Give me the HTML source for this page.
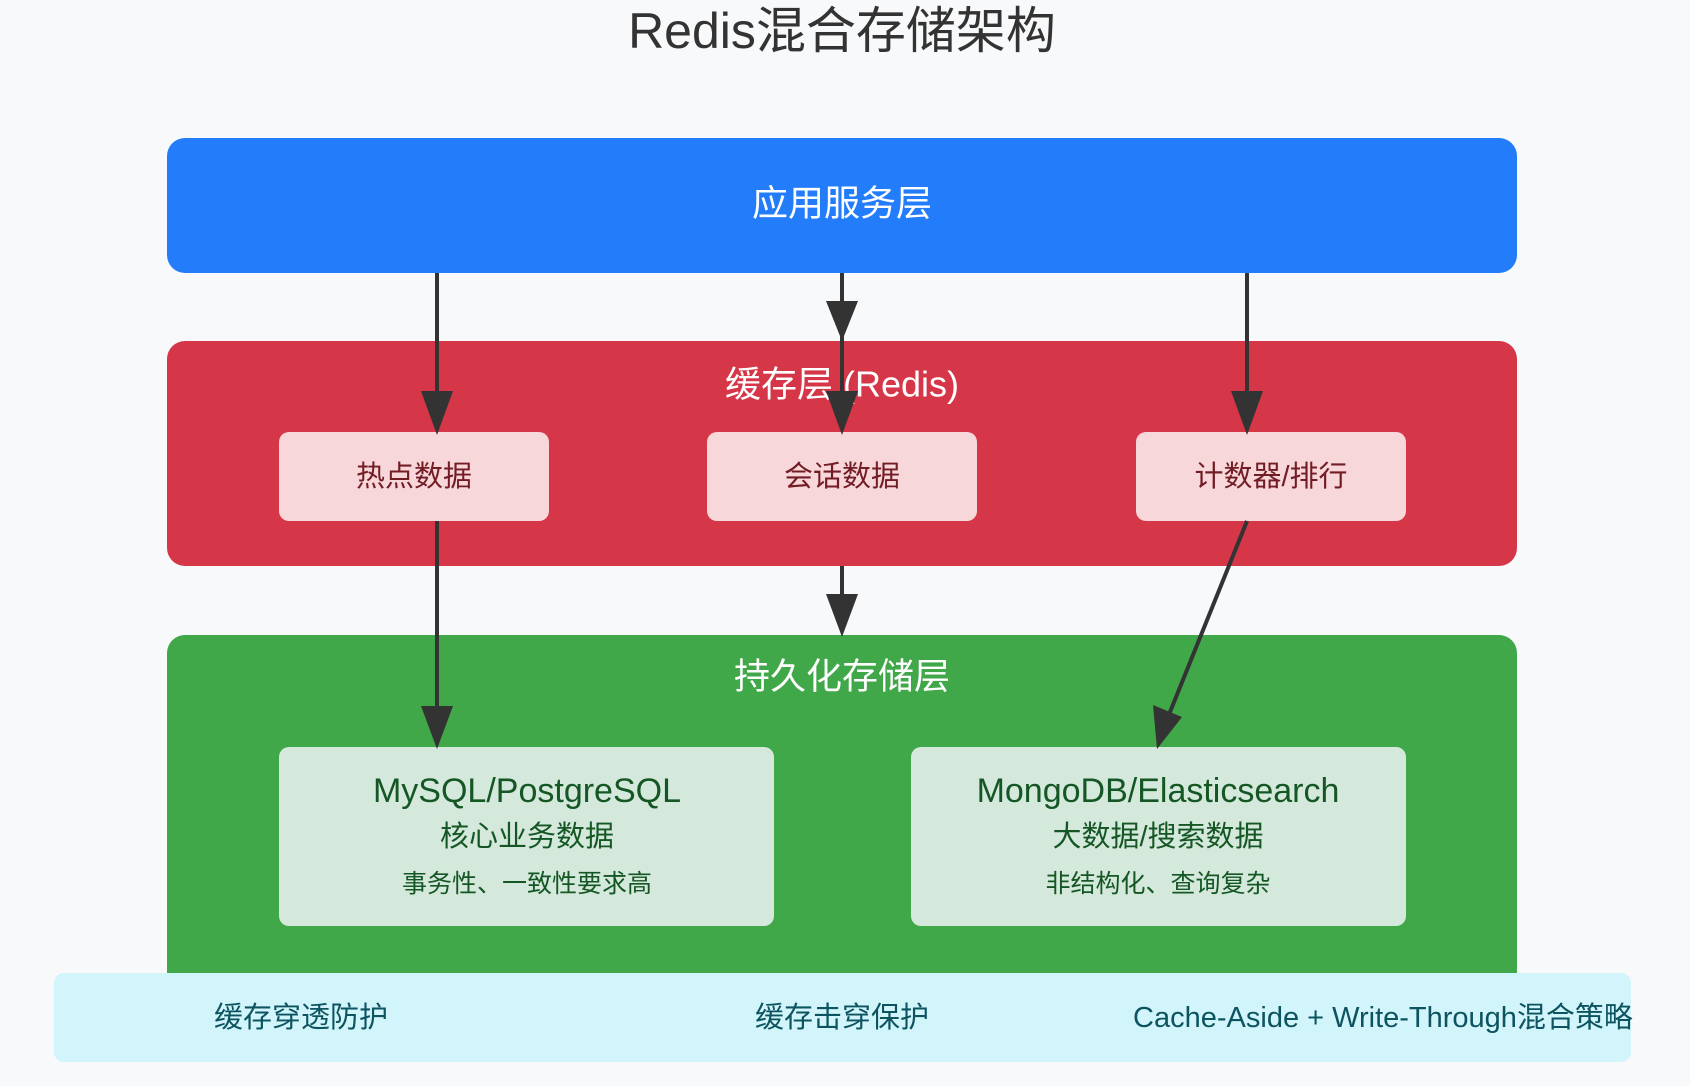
<!DOCTYPE html>
<html><head><meta charset="utf-8"><style>
html,body{margin:0;padding:0;background:#f8f9fa;}
svg{display:block}
text{font-family:"Liberation Sans","Noto Sans CJK SC",sans-serif;text-anchor:middle;dominant-baseline:central}
</style></head><body>
<svg width="1690" height="1086" viewBox="0 0 1690 1086" xmlns="http://www.w3.org/2000/svg">
<rect width="1690" height="1086" fill="#f8f9fa"/>
<text x="842" y="31" font-size="50" fill="#333">Redis混合存储架构</text>
<rect x="167" y="138" width="1350" height="135" rx="18" fill="#237dfb"/>
<text x="842" y="203" font-size="36" fill="#fff">应用服务层</text>
<rect x="167" y="341" width="1350" height="225" rx="18" fill="#d53648"/>
<text x="842" y="384" font-size="36" fill="#fff">缓存层 (Redis)</text>
<rect x="279" y="432" width="270" height="89" rx="10" fill="#f8d7da"/>
<rect x="707" y="432" width="270" height="89" rx="10" fill="#f8d7da"/>
<rect x="1136" y="432" width="270" height="89" rx="10" fill="#f8d7da"/>
<text x="414" y="477" font-size="29" fill="#721c24">热点数据</text>
<text x="842" y="477" font-size="29" fill="#721c24">会话数据</text>
<text x="1271" y="477" font-size="29" fill="#721c24">计数器/排行</text>
<rect x="167" y="635" width="1350" height="400" rx="18" fill="#41a84a"/>
<text x="842" y="676" font-size="36" fill="#fff">持久化存储层</text>
<rect x="279" y="747" width="495" height="179" rx="10" fill="#d4e8dc"/>
<rect x="911" y="747" width="495" height="179" rx="10" fill="#d4e8dc"/>
<text x="527" y="791" font-size="34" fill="#155724">MySQL/PostgreSQL</text>
<text x="527" y="837" font-size="29" fill="#155724">核心业务数据</text>
<text x="527" y="884" font-size="25" fill="#155724">事务性、一致性要求高</text>
<text x="1158" y="791" font-size="34" fill="#155724">MongoDB/Elasticsearch</text>
<text x="1158" y="837" font-size="29" fill="#155724">大数据/搜索数据</text>
<text x="1158" y="884" font-size="25" fill="#155724">非结构化、查询复杂</text>
<rect x="54" y="973" width="1577" height="89" rx="10" fill="#d2f4fb"/>
<text x="301" y="1018" font-size="29" fill="#0c5460">缓存穿透防护</text>
<text x="842" y="1018" font-size="29" fill="#0c5460">缓存击穿保护</text>
<text x="1383" y="1018" font-size="29" fill="#0c5460">Cache-Aside + Write-Through混合策略</text>
<g stroke="#333" stroke-width="4" fill="none">
<line x1="437" y1="273" x2="437" y2="400"/>
<line x1="842" y1="273" x2="842" y2="400"/>
<line x1="1247" y1="273" x2="1247" y2="400"/>
<line x1="437" y1="521" x2="437" y2="715"/>
<line x1="842" y1="566" x2="842" y2="600"/>
<line x1="1247" y1="521" x2="1168" y2="717"/>
</g>
<g fill="#333">
<polygon points="421,391 453,391 437,435"/>
<polygon points="826,301 858,301 842,341"/>
<polygon points="826,391 858,391 842,435"/>
<polygon points="1231,391 1263,391 1247,435"/>
<polygon points="421,706 453,706 437,749"/>
<polygon points="826,594 858,594 842,637"/>
<polygon points="1153,705 1182,717 1157,749"/>
</g>
</svg>
</body></html>
